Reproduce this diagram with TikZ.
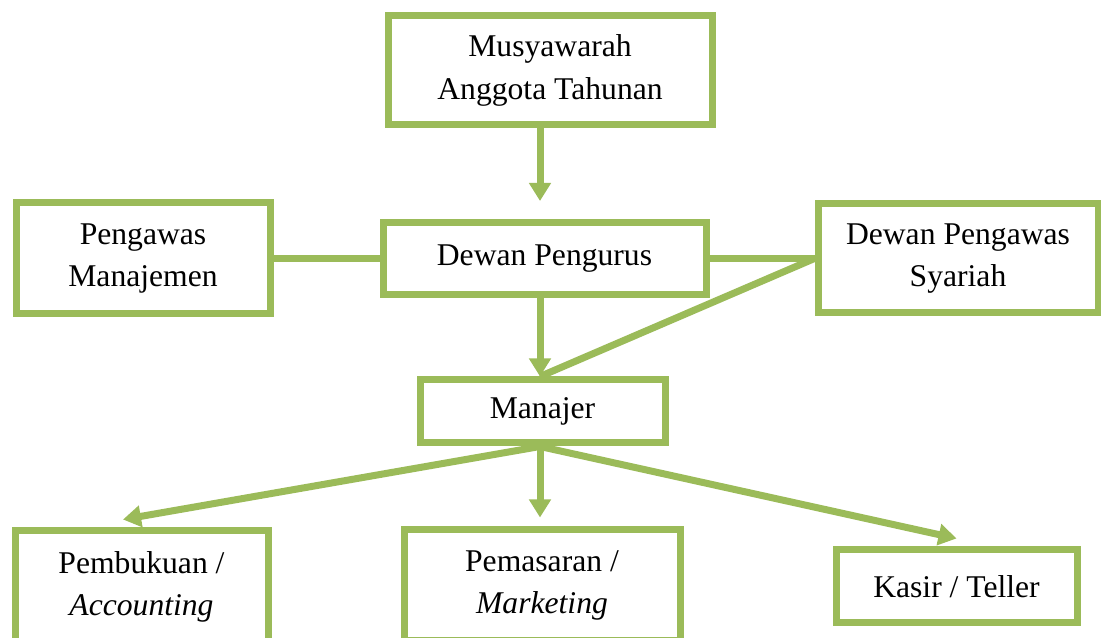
\documentclass[tikz,border=0pt]{standalone}
\usepackage{fontspec}
\setmainfont{Liberation Serif}[ItalicFont={Liberation Serif Italic}, BoldFont={Liberation Serif Bold}]
\usetikzlibrary{arrows.meta,positioning,calc}
\definecolor{LeafGreen}{HTML}{9BBB59}

\begin{document}
\begin{tikzpicture}[
    unit/.style={draw=LeafGreen, line width=0.14cm, fill=white, align=center,
      font=\fontsize{18}{24}\selectfont, inner sep=0pt},
    link/.style={LeafGreen, line width=0.14cm},
    feed/.style={link, -{Triangle[width=0.42cm,length=0.36cm]}}
  ]
    \useasboundingbox (0,0) rectangle (22.02,12.76);
    \node[unit, minimum width=6.48cm, minimum height=2.18cm] (mat) at (11.00,11.35) {Musyawarah\\Anggota Tahunan};
    \node[unit, minimum width=5.08cm, minimum height=2.22cm] (pm) at (2.86,7.59) {Pengawas\\Manajemen};
    \node[unit, minimum width=6.46cm, minimum height=1.44cm] (dp) at (10.89,7.59) {Dewan Pengurus};
    \node[unit, minimum width=5.60cm, minimum height=2.18cm] (dps) at (19.16,7.59) {Dewan Pengawas\\Syariah};
    \node[unit, minimum width=4.90cm, minimum height=1.26cm] (man) at (10.85,4.53) {Manajer};
    \node[unit, minimum width=5.06cm, minimum height=2.22cm] (pem) at (2.83,1.03) {Pembukuan /\\\textit{Accounting}};
    \node[unit, minimum width=5.52cm, minimum height=2.22cm] (mkt) at (10.84,1.05) {Pemasaran /\\\textit{Marketing}};
    \node[unit, minimum width=4.82cm, minimum height=1.46cm] (kas) at (19.13,1.03) {Kasir / Teller};
    \coordinate (axis) at (10.80,0);
    \draw[feed, shorten >=0.36cm] (mat.south -| axis) -- (dp.north -| axis);
    \draw[link] (pm.east) -- (dp.west);
    \draw[link] (dp.east) -- (dps.west);
    \draw[link] (dps.west) -- (man.north -| axis);
    \draw[feed] (dp.south -| axis) -- (man.north -| axis);
    \draw[feed] (man.south -| axis) -- ([shift={(-0.37,0.16)}]pem.north);
    \draw[feed, shorten >=0.18cm] (man.south -| axis) -- (mkt.north -| axis);
    \draw[feed] (man.south -| axis) -- ([yshift=0.16cm]kas.north);
  \end{tikzpicture}
\end{document}
